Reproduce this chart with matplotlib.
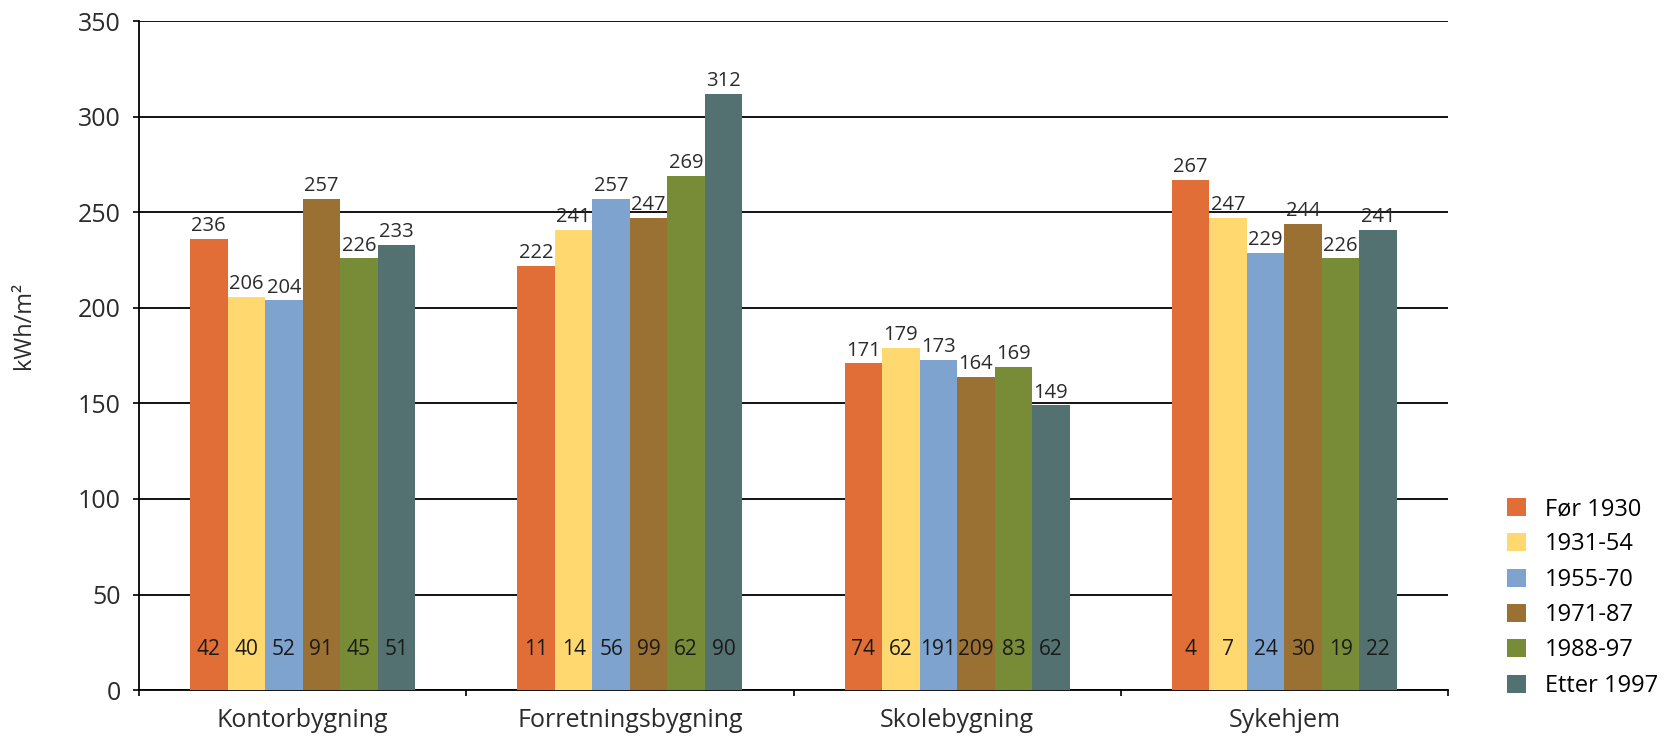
import numpy as np
import matplotlib
matplotlib.use("Agg")
import matplotlib.pyplot as plt

plt.rcParams["font.family"] = ["Open Sans", "DejaVu Sans"]

categories = ["Kontorbygning", "Forretningsbygning", "Skolebygning", "Sykehjem"]
periods = ["Før 1930", "1931-54", "1955-70", "1971-87", "1988-97", "Etter 1997"]
colors = ["#E06E36", "#FFD970", "#7EA3CF", "#9B7033", "#788C37", "#537170"]

# kWh/m2 per period (rows) and building type (columns)
kwh = [
    [236, 222, 171, 267],
    [206, 241, 179, 247],
    [204, 257, 173, 229],
    [257, 247, 164, 244],
    [226, 269, 169, 226],
    [233, 312, 149, 241],
]
# number of buildings, printed inside the bars
counts = [
    [42, 11, 74, 4],
    [40, 14, 62, 7],
    [52, 56, 191, 24],
    [91, 99, 209, 30],
    [45, 62, 83, 19],
    [51, 90, 62, 22],
]

txt = "#2b2b2b"
fig = plt.figure(figsize=(16.77, 7.37), dpi=100)
ax = fig.add_axes([139 / 1677, 1 - 690 / 737, 1309 / 1677, 668.5 / 737])

x = np.arange(len(categories))
w = 0.1147
for i, (per, col) in enumerate(zip(periods, colors)):
    pos = x + (i - 2.5) * w
    bars = ax.bar(pos, kwh[i], width=w, color=col, label=per, zorder=3)
    for b, v, n in zip(bars, kwh[i], counts[i]):
        cx = b.get_x() + b.get_width() / 2
        ax.annotate(str(v), (cx, v), xytext=(0, 2), textcoords="offset points",
                    ha="center", va="bottom", fontsize=14.5, color=txt)
        ax.text(cx, 21, str(n), ha="center", va="center", fontsize=15, color="#1a1a1a", zorder=4)

ax.set_ylim(0, 350)
ax.set_xlim(-0.5, 3.5)
ax.set_yticks(range(0, 351, 50))
ax.yaxis.grid(True, color="black", linewidth=1.3, zorder=0)
ax.set_axisbelow(True)
ax.tick_params(axis="y", labelsize=18, labelcolor=txt, length=4, width=1.2, pad=9, direction="out")
ax.set_xticks(x)
ax.set_xticklabels(categories, fontsize=18, color=txt)
ax.set_xticks(np.arange(-0.5, 3.6, 1), minor=True)
ax.tick_params(axis="x", which="major", length=0, pad=13)
ax.tick_params(axis="x", which="minor", length=4, width=1.2, direction="out")
for s in ("top", "right"):
    ax.spines[s].set_visible(False)
ax.spines["left"].set_linewidth(1.3)
ax.spines["bottom"].set_linewidth(1.3)

fig.text(24 / 1677, 1 - 325 / 737, "kWh/m²", rotation=90, ha="center", va="center",
         fontsize=17, color=txt)

fig.legend(loc="center left", bbox_to_anchor=(1507 / 1677, 1 - 597.5 / 737), frameon=False,
           fontsize=17, handlelength=0.8, handleheight=0.8, handletextpad=0.8,
           labelspacing=0.48, borderpad=0, borderaxespad=0)

fig.savefig("out.png", dpi=100)
